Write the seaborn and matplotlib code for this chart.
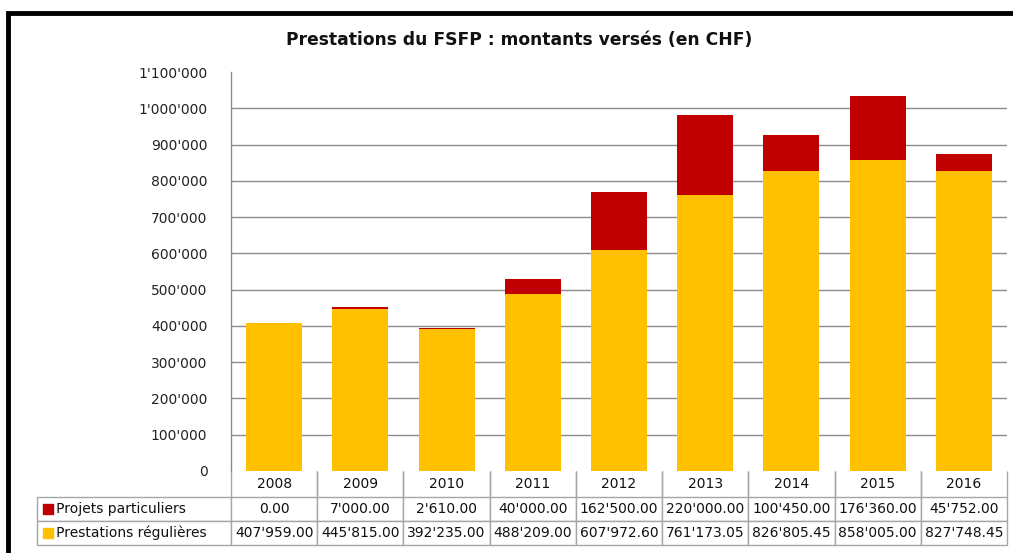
import matplotlib
matplotlib.use("Agg")
import matplotlib.pyplot as plt
from matplotlib import font_manager
from matplotlib.patches import Rectangle
from matplotlib.ticker import FuncFormatter
import seaborn as sns
import pandas as pd

sns.set_theme(style="white")

annees = ['2008', '2009', '2010', '2011', '2012', '2013', '2014', '2015', '2016']
projets = [0.00, 7000.00, 2610.00, 40000.00, 162500.00, 220000.00, 100450.00, 176360.00, 45752.00]
regulieres = [407959.00, 445815.00, 392235.00, 488209.00, 607972.60, 761173.05, 826805.45, 858005.00, 827748.45]
serie_labels = ['Projets particuliers', 'Prestations régulières']

jaune = '#FFC000'
rouge = '#C00000'
gris = '#8C8C8C'

df = pd.DataFrame({'annee': annees, 'projets': projets, 'regulieres': regulieres})
df['total'] = df['projets'] + df['regulieres']

def fmt_chf(v, dec=0):
    s = '{:,.{d}f}'.format(v, d=dec)
    return s.replace(',', "'")

# narrow font for the y axis if there is one
narrow = None
for nom in ['Liberation Sans Narrow', 'Arial Narrow']:
    try:
        font_manager.findfont(font_manager.FontProperties(family=nom), fallback_to_default=False)
        narrow = nom
        break
    except ValueError:
        pass

fig = plt.figure(figsize=(10.13, 5.53), dpi=100)
ax = fig.add_axes([231 / 1013, 1 - 471 / 553, 776 / 1013, 399 / 553])

# stacked bars: total in red, regular on top in yellow
sns.barplot(data=df, x='annee', y='total', color=rouge, saturation=1, width=0.65,
            linewidth=0, edgecolor='none', ax=ax, zorder=3)
sns.barplot(data=df, x='annee', y='regulieres', color=jaune, saturation=1, width=0.65,
            linewidth=0, edgecolor='none', ax=ax, zorder=4)

ax.set_ylim(0, 1100000)
ax.set_xlim(-0.5, len(annees) - 0.5)
ax.set_yticks(range(0, 1100001, 100000))
ax.yaxis.set_major_formatter(FuncFormatter(lambda v, p: fmt_chf(v)))
for lab in ax.get_yticklabels():
    if narrow:
        lab.set_family(narrow)
        lab.set_fontsize(13)
    else:
        lab.set_family('DejaVu Sans')
        lab.set_fontsize(10)
    lab.set_color('#222222')
ax.tick_params(axis='y', length=0, pad=17)
ax.set_xticks([])
ax.set_xlabel('')
ax.set_ylabel('')

for sp in ['top', 'right', 'bottom']:
    ax.spines[sp].set_visible(False)
ax.spines['left'].set_color(gris)
ax.spines['left'].set_linewidth(1)

# horizontal gridlines (not at 0 or at the top)
for v in range(100000, 1000001, 100000):
    ax.axhline(v, color=gris, lw=1, zorder=1)

# data table below the chart
cell_text = [[''] + annees,
             ['   ' + serie_labels[0]] + [fmt_chf(v, 2) for v in projets],
             ['   ' + serie_labels[1]] + [fmt_chf(v, 2) for v in regulieres]]
col_w = [194] + [776 / 9] * 9
left = (37 - 231) / 776
tab = ax.table(cellText=cell_text, colWidths=col_w, cellLoc='center',
               bbox=[left, -74 / 399, 1 - left, 74 / 399])
tab.auto_set_font_size(False)
for (r, c), cell in tab.get_celld().items():
    cell.set_edgecolor('#A6A6A6')
    cell.set_linewidth(1)
    cell.get_text().set_fontsize(10)
    cell.get_text().set_color('#111111')
    if r == 0:
        cell.visible_edges = '' if c == 0 else 'LR'
    if c == 0 and r > 0:
        cell.get_text().set_horizontalalignment('left')
        cell.PAD = 0.03
    cell.set_height(26 if r == 0 else 24)

# legend keys in the table
ax.scatter([(48 - 231) / 776] * 2, [(471 - 509) / 399, (471 - 533) / 399],
           marker='s', s=55, c=[rouge, jaune], transform=ax.transAxes,
           clip_on=False, zorder=10)

fig.text(519 / 1013, 1 - 40 / 553, 'Prestations du FSFP : montants versés (en CHF)',
         ha='center', va='center', fontsize=12.3, fontweight='bold', color='#111111')

# outer black frame of the original screenshot
fig.patches.append(Rectangle((8 / 1013, -0.1), 1.1, 1 - 13.5 / 553 + 0.1,
                             transform=fig.transFigure, fill=False,
                             edgecolor='black', linewidth=3.5, zorder=0))

fig.savefig('out.png', dpi=100)
